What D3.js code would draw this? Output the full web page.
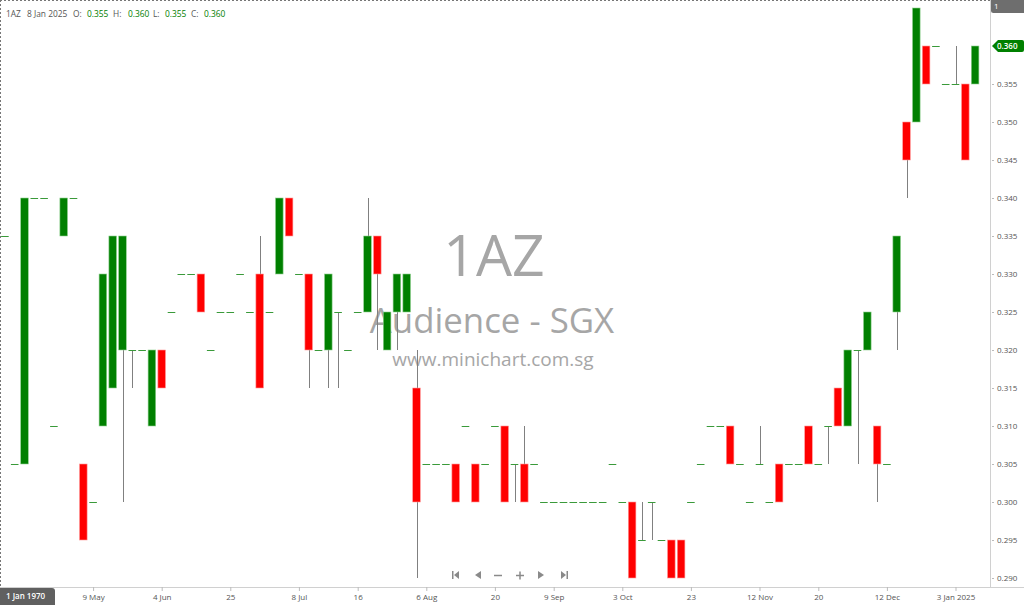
<!DOCTYPE html>
<html>
<head>
<meta charset="utf-8">
<script src="https://cdn.jsdelivr.net/npm/d3@7/dist/d3.min.js"></script>
<style>
  html, body { margin: 0; padding: 0; background: #fff; }
  svg { display: block; }
  text { font-family: "Open Sans", sans-serif; }
</style>
</head>
<body>
<svg id="chart" width="1024" height="605"></svg>
<script>
// ---- DATA ----
const openP  = [0.335,0.305,0.305,0.340,0.340,0.310,0.335,0.340,0.305,0.300,
                0.310,0.315,0.320,0.320,0.320,0.310,0.320,0.325,0.330,0.330,
                0.330,0.320,0.325,0.325,0.330,0.325,0.330,0.325,0.330,0.340,
                0.330,0.330,0.320,0.320,0.325,0.320,0.325,0.325,0.335,0.320,
                0.325,0.325,0.315,0.305,0.305,0.305,0.305,0.310,0.305,0.305,
                0.310,0.310,0.305,0.305,0.305,0.300,0.300,0.300,0.300,0.300,
                0.300,0.300,0.305,0.300,0.300,0.295,0.300,0.295,0.295,0.295,
                0.300,0.305,0.310,0.310,0.310,0.305,0.300,0.305,0.300,0.305,
                0.305,0.305,0.310,0.305,0.310,0.315,0.310,0.320,0.320,0.310,
                0.305,0.325,0.350,0.350,0.360,0.360,0.355,0.355,0.355,0.355];
const highP  = [0.335,0.305,0.340,0.340,0.340,0.310,0.340,0.340,0.305,0.300,
                0.330,0.335,0.335,0.320,0.320,0.320,0.320,0.325,0.330,0.330,
                0.330,0.320,0.325,0.325,0.330,0.325,0.335,0.325,0.340,0.340,
                0.330,0.330,0.320,0.330,0.325,0.320,0.325,0.340,0.335,0.325,
                0.330,0.330,0.320,0.305,0.305,0.305,0.305,0.310,0.305,0.305,
                0.310,0.310,0.305,0.310,0.305,0.300,0.300,0.300,0.300,0.300,
                0.300,0.300,0.305,0.300,0.300,0.300,0.300,0.295,0.295,0.295,
                0.300,0.305,0.310,0.310,0.310,0.305,0.300,0.310,0.300,0.305,
                0.305,0.305,0.310,0.305,0.310,0.315,0.320,0.320,0.325,0.310,
                0.305,0.335,0.350,0.365,0.360,0.360,0.355,0.360,0.355,0.360];
const lowP   = [0.335,0.305,0.305,0.340,0.340,0.310,0.335,0.340,0.295,0.300,
                0.310,0.315,0.300,0.315,0.320,0.310,0.315,0.325,0.330,0.330,
                0.325,0.320,0.325,0.325,0.330,0.325,0.315,0.325,0.330,0.335,
                0.330,0.315,0.320,0.315,0.315,0.320,0.325,0.325,0.320,0.320,
                0.320,0.325,0.290,0.305,0.305,0.305,0.300,0.310,0.300,0.305,
                0.310,0.300,0.300,0.300,0.305,0.300,0.300,0.300,0.300,0.300,
                0.300,0.300,0.305,0.300,0.290,0.295,0.295,0.295,0.290,0.290,
                0.300,0.305,0.310,0.310,0.305,0.305,0.300,0.305,0.300,0.300,
                0.305,0.305,0.305,0.305,0.305,0.310,0.310,0.305,0.320,0.300,
                0.305,0.320,0.340,0.350,0.355,0.360,0.355,0.355,0.345,0.355];
const closeP = [0.335,0.305,0.340,0.340,0.340,0.310,0.340,0.340,0.295,0.300,
                0.330,0.335,0.335,0.320,0.320,0.320,0.315,0.325,0.330,0.330,
                0.325,0.320,0.325,0.325,0.330,0.325,0.315,0.325,0.340,0.335,
                0.330,0.320,0.320,0.330,0.325,0.320,0.325,0.335,0.330,0.325,
                0.330,0.330,0.300,0.305,0.305,0.305,0.300,0.310,0.300,0.305,
                0.310,0.300,0.305,0.300,0.305,0.300,0.300,0.300,0.300,0.300,
                0.300,0.300,0.305,0.300,0.290,0.295,0.300,0.295,0.290,0.290,
                0.300,0.305,0.310,0.310,0.305,0.305,0.300,0.305,0.300,0.300,
                0.305,0.305,0.305,0.305,0.310,0.310,0.320,0.320,0.325,0.305,
                0.305,0.335,0.345,0.365,0.355,0.360,0.355,0.355,0.345,0.360];
const xTickIndex  = [9, 16, 23, 30, 36, 43, 50, 56, 63, 70, 77, 83, 90, 97];
const xTickLabels = ["9 May","4 Jun","25","8 Jul","16","6 Aug","20","9 Sep","3 Oct","23","12 Nov","20","12 Dec","3 Jan 2025"];
const yTicks = [0.290,0.295,0.300,0.305,0.310,0.315,0.320,0.325,0.330,0.335,0.340,0.345,0.350,0.355];
const symbol = "1AZ", lastDate = "8 Jan 2025";

// ---- CHART ----
const svg = d3.select("#chart");
const W = 1024, H = 605;
const plotRight = 990, plotBottom = 587;
const idx = d3.range(openP.length);
const bars = idx.map(i => ({i, o: openP[i], h: highP[i], l: lowP[i], c: closeP[i]}));

const x = d3.scalePoint().domain(idx).range([4.9, 975.1]);
const y = d3.scaleLinear().domain([0.290, 0.360]).range([578, 46]);
const bw = 7.6;
const GREEN = "#008000", RED = "#ff0000";

// borders
svg.append("line").attr("x1", 0).attr("x2", plotRight).attr("y1", 0.5).attr("y2", 0.5)
  .attr("stroke", "#777").attr("stroke-dasharray", "2,2");
svg.append("line").attr("x1", 0.5).attr("x2", 0.5).attr("y1", 0).attr("y2", plotBottom)
  .attr("stroke", "#777").attr("stroke-dasharray", "2,2");
svg.append("line").attr("x1", 0).attr("x2", W).attr("y1", plotBottom + 0.5).attr("y2", plotBottom + 0.5)
  .attr("stroke", "#d0d0d0");
svg.append("line").attr("x1", plotRight + 0.5).attr("x2", plotRight + 0.5).attr("y1", 0).attr("y2", plotBottom)
  .attr("stroke", "#d0d0d0");

// watermark
const wm = svg.append("g").attr("font-family", "'Liberation Sans', Arial, sans-serif").attr("text-anchor", "middle");
wm.append("text").attr("x", 494).attr("y", 276).attr("font-size", 57).attr("fill", "#a6a6a6").text(symbol);
wm.append("text").attr("x", 492).attr("y", 333).attr("font-size", 34.8).attr("fill", "#a6a6a6").text("Audience - SGX");
wm.append("text").attr("x", 493).attr("y", 366).attr("font-size", 19).attr("fill", "#a6a6a6").text("www.minichart.com.sg");

// candles
const g = svg.append("g");
g.selectAll("line.wick").data(bars.filter(d => d.h > Math.max(d.o, d.c) || d.l < Math.min(d.o, d.c)))
  .join("line").attr("class", "wick")
  .attr("x1", d => Math.round(x(d.i)) + 0.5).attr("x2", d => Math.round(x(d.i)) + 0.5)
  .attr("y1", d => y(d.h)).attr("y2", d => y(d.l))
  .attr("stroke", "#808080").attr("stroke-width", 1);

g.selectAll("rect.body").data(bars.filter(d => d.o !== d.c))
  .join("rect").attr("class", "body")
  .attr("x", d => x(d.i) - bw / 2).attr("width", bw)
  .attr("y", d => y(Math.max(d.o, d.c)))
  .attr("height", d => Math.abs(y(d.o) - y(d.c)))
  .attr("fill", d => d.c > d.o ? GREEN : RED)
  .attr("stroke", d => d.c > d.o ? "#8fd08f" : "#ff9a9a").attr("stroke-width", 0.6);

g.selectAll("line.doji").data(bars.filter(d => d.o === d.c))
  .join("line").attr("class", "doji")
  .attr("x1", d => x(d.i) - bw / 2).attr("x2", d => x(d.i) + bw / 2)
  .attr("y1", d => Math.round(y(d.o)) + 0.5).attr("y2", d => Math.round(y(d.o)) + 0.5)
  .attr("stroke", "#3a9a3a").attr("stroke-width", 1);

// right axis
const yAxis = d3.axisRight(y).tickValues(yTicks).tickFormat(d3.format(".3f")).tickSize(4).tickPadding(3);
const ya = svg.append("g").attr("transform", `translate(${plotRight},0)`).call(yAxis);
ya.select(".domain").remove();
ya.selectAll(".tick line").attr("stroke", "#bbb").attr("x1", 2);
ya.selectAll(".tick text").attr("fill", "#555").attr("font-size", 8).attr("font-family", "'Open Sans', sans-serif");

// bottom axis
const xAxis = d3.axisBottom(x).tickValues(xTickIndex).tickFormat((d, k) => xTickLabels[k]).tickSize(4).tickPadding(3);
const xa = svg.append("g").attr("transform", `translate(0,${plotBottom})`).call(xAxis);
xa.select(".domain").remove();
xa.selectAll(".tick line").attr("stroke", "#bbb");
xa.selectAll(".tick text").attr("fill", "#555").attr("font-size", 8).attr("font-family", "'Open Sans', sans-serif");

// last price tag
const last = bars[bars.length - 1];
const ty = y(last.c);
svg.append("path")
  .attr("d", `M${plotRight + 2},${ty} L${plotRight + 8},${ty - 6} L1022,${ty - 6} Q1024,${ty - 6} 1024,${ty - 4} L1024,${ty + 4} Q1024,${ty + 6} 1022,${ty + 6} L${plotRight + 8},${ty + 6} Z`)
  .attr("fill", GREEN);
svg.append("text").attr("x", 997).attr("y", ty + 3).attr("font-size", 8).attr("font-weight", 600)
  .attr("fill", "#fff").text(d3.format(".3f")(last.c));

// top-right box
svg.append("rect").attr("x", 991).attr("y", -3).attr("width", 40).attr("height", 16).attr("rx", 2.5).attr("fill", "#6e6e6e");
svg.append("text").attr("x", 994).attr("y", 9).attr("font-size", 8).attr("fill", "#fff").text("1");

// bottom-left date box
svg.append("rect").attr("x", -3).attr("y", 588).attr("width", 58).attr("height", 20).attr("rx", 3).attr("fill", "#606060");
svg.append("text").attr("x", 6).attr("y", 599).attr("font-size", 8).attr("font-weight", 600).attr("fill", "#fff").text("1 Jan 1970");

// header
const fmt = d3.format(".3f");
const parts = [[symbol, "#555", 6], [lastDate, "#555", 27], ["O:", "#555", 73], [fmt(last.o), GREEN, 87],
  ["H:", "#555", 113], [fmt(last.h), GREEN, 128], ["L:", "#555", 153], [fmt(last.l), GREEN, 165],
  ["C:", "#555", 191], [fmt(last.c), GREEN, 204]];
const hdr = svg.append("g").attr("font-size", 8.4);
parts.forEach(([t, c, px]) => hdr.append("text").attr("x", px).attr("y", 17).attr("fill", c).text(t));

// navigation icons
const nav = svg.append("g").attr("fill", "#8a8a8a").attr("stroke", "#8a8a8a");
const ny = 575;
nav.append("rect").attr("x", 452).attr("y", ny - 4).attr("width", 1.5).attr("height", 8).attr("stroke", "none");
nav.append("path").attr("d", `M459,${ny - 4} L459,${ny + 4} L454,${ny} Z`).attr("stroke", "none");
nav.append("path").attr("d", `M481,${ny - 4} L481,${ny + 4} L475,${ny} Z`).attr("stroke", "none");
nav.append("line").attr("x1", 494).attr("x2", 502).attr("y1", ny + 0.5).attr("y2", ny + 0.5).attr("stroke-width", 1.5);
nav.append("line").attr("x1", 516).attr("x2", 524).attr("y1", ny + 0.5).attr("y2", ny + 0.5).attr("stroke-width", 1.5);
nav.append("line").attr("x1", 520).attr("x2", 520).attr("y1", ny - 3.5).attr("y2", ny + 4.5).attr("stroke-width", 1.5);
nav.append("path").attr("d", `M538,${ny - 4} L538,${ny + 4} L544,${ny} Z`).attr("stroke", "none");
nav.append("path").attr("d", `M561,${ny - 4} L561,${ny + 4} L566,${ny} Z`).attr("stroke", "none");
nav.append("rect").attr("x", 566.5).attr("y", ny - 4).attr("width", 1.5).attr("height", 8).attr("stroke", "none");
</script>
</body>
</html>
